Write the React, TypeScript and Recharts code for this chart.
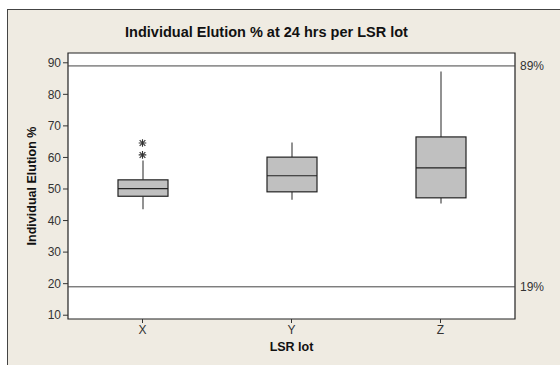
import { ComposedChart, Bar, Line, XAxis, YAxis, ReferenceLine, ReferenceArea } from 'recharts';

const lots = ['X', 'Y', 'Z'];
const whiskerLow = [43.6, 46.6, 45.4];
const q1 = [47.7, 49.1, 47.2];
const median = [50.1, 54.2, 56.7];
const q3 = [52.9, 60.1, 66.5];
const whiskerHigh = [59.0, 64.7, 87.2];
const outliers: number[][] = [[60.8, 64.6], [], []];
const yTicks = [10, 20, 30, 40, 50, 60, 70, 80, 90];
const yDomain = [8.8, 93.1];
const upperLimit = 89;
const lowerLimit = 19;

const data = lots.map((lot, i) => ({
  lot,
  lo: whiskerLow[i],
  q1: q1[i],
  med: median[i],
  q3: q3[i],
  hi: whiskerHigh[i],
  out1: outliers[i][0] ?? null,
  out2: outliers[i][1] ?? null,
}));

const FONT = '"Liberation Sans", Arial, sans-serif';

function BoxShape(props: any) {
  const { x, y, width, height, payload } = props;
  const top = Math.min(y, y + height);
  const bottom = Math.max(y, y + height);
  const span = payload.hi - payload.lo;
  const py = (v: number) => top + ((payload.hi - v) / span) * (bottom - top);
  const cx = x + width / 2;
  return (
    <g>
      <line x1={cx} x2={cx} y1={top} y2={py(payload.q3)} stroke="#6e6e6e" strokeWidth={1.5} />
      <line x1={cx} x2={cx} y1={py(payload.q1)} y2={bottom} stroke="#6e6e6e" strokeWidth={1.5} />
      <rect
        x={x}
        y={py(payload.q3)}
        width={width}
        height={py(payload.q1) - py(payload.q3)}
        fill="#c0c0c0"
        stroke="#222"
        strokeWidth={1.2}
      />
      <line x1={x} x2={x + width} y1={py(payload.med)} y2={py(payload.med)} stroke="#222" strokeWidth={1.2} />
    </g>
  );
}

function Star(props: any) {
  const { cx, cy, value, index } = props;
  if (value == null || cy == null || Number.isNaN(cy)) return <g key={`s${index}`} />;
  const r = 3.8;
  const d = r * 0.75;
  return (
    <g key={`s${index}`} stroke="#333" strokeWidth={1.1}>
      <line x1={cx} x2={cx} y1={cy - r} y2={cy + r} />
      <line x1={cx - d} x2={cx + d} y1={cy - d} y2={cy + d} />
      <line x1={cx - d} x2={cx + d} y1={cy + d} y2={cy - d} />
      <line x1={cx - r} x2={cx + r} y1={cy} y2={cy} />
    </g>
  );
}

export default function App() {
  return (
    <div style={{ position: 'absolute', left: 0, top: 0, width: 560, height: 365, background: '#fff', overflow: 'hidden' }}>
      <div
        style={{
          position: 'absolute',
          left: 7,
          top: 9,
          width: 560,
          height: 365,
          background: '#efebe2',
          borderLeft: '1px solid #444',
          borderTop: '1px solid #444',
        }}
      />
      <div
        style={{
          position: 'absolute',
          left: 0,
          top: 24,
          width: 533,
          textAlign: 'center',
          fontFamily: FONT,
          fontWeight: 'bold',
          fontSize: 14.5,
          lineHeight: '17px',
          color: '#111',
        }}
      >
        Individual Elution % at 24 hrs per LSR lot
      </div>
      <div style={{ position: 'absolute', left: 0, top: 0 }}>
        <ComposedChart
          width={560}
          height={365}
          data={data}
          margin={{ top: 53, right: 45, left: 28, bottom: 10 }}
          style={{ fontFamily: FONT }}
        >
          <ReferenceArea
            y1={yDomain[0]}
            y2={yDomain[1]}
            fill="#ffffff"
            fillOpacity={1}
            stroke="#222"
            strokeWidth={1.2}
            ifOverflow="visible"
          />
          <XAxis
            dataKey="lot"
            height={36}
            axisLine={false}
            tickSize={4}
            tickLine={{ stroke: '#333' }}
            tick={{ fill: '#333', fontSize: 12 }}
            label={{
              content: (p: any) => (
                <text
                  x={p.viewBox.x + p.viewBox.width / 2}
                  y={p.viewBox.y + 32}
                  textAnchor="middle"
                  fontWeight="bold"
                  fontSize={12.5}
                  fill="#111"
                >
                  LSR lot
                </text>
              ),
            }}
          />
          <YAxis
            type="number"
            width={40}
            domain={yDomain}
            allowDataOverflow
            ticks={yTicks}
            axisLine={false}
            tickSize={5}
            tickLine={{ stroke: '#333' }}
            tick={{ fill: '#333', fontSize: 12 }}
            label={{
              content: (p: any) => {
                const cy = p.viewBox.y + p.viewBox.height / 2;
                return (
                  <text
                    x={32}
                    y={cy}
                    transform={`rotate(-90 32 ${cy})`}
                    textAnchor="middle"
                    dominantBaseline="central"
                    fontWeight="bold"
                    fontSize={12.5}
                    fill="#111"
                  >
                    Individual Elution %
                  </text>
                );
              },
            }}
          />
          <ReferenceLine
            y={upperLimit}
            stroke="#444"
            strokeWidth={1}
            label={{ value: `${upperLimit}%`, position: 'right', fill: '#333', fontSize: 12 }}
          />
          <ReferenceLine
            y={lowerLimit}
            stroke="#444"
            strokeWidth={1}
            label={{ value: `${lowerLimit}%`, position: 'right', fill: '#333', fontSize: 12 }}
          />
          <Bar
            dataKey={(d: any) => [d.lo, d.hi]}
            barSize={50}
            shape={BoxShape}
            isAnimationActive={false}
          />
          <Line dataKey="out1" stroke="none" dot={Star} activeDot={false} isAnimationActive={false} />
          <Line dataKey="out2" stroke="none" dot={Star} activeDot={false} isAnimationActive={false} />
        </ComposedChart>
      </div>
    </div>
  );
}
